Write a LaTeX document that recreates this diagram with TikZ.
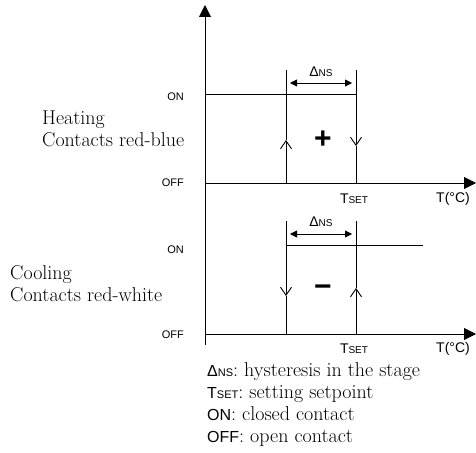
\documentclass[tikz,border=0pt]{standalone}
\usepackage{fontspec}
\setsansfont{Liberation Sans}
\usepackage{tikz}
\usetikzlibrary{arrows.meta, positioning, calc}

\newcommand{\dns}[2]{{\sffamily\fontsize{#1}{#1}\selectfont Δ\fontsize{#2}{#2}\selectfont NS}}
\newcommand{\tset}[2]{{\sffamily\fontsize{#1}{#1}\selectfont T\fontsize{#2}{#2}\selectfont SET}}

\begin{document}
\begin{tikzpicture}[
    x=1pt, y=-1pt,
    axis/.style={line width=1pt, -{Triangle[length=12pt, width=12pt]}},
    curve/.style={line width=0.8pt},
    span/.style={line width=0.8pt, {Triangle[length=7pt, width=7pt]}-{Triangle[length=7pt, width=7pt]}, shorten <=4pt, shorten >=4pt},
    barb/.style={line width=0.9pt, -{Straight Barb[length=8pt, width=11pt]}},
    lvl/.style={font=\sffamily\fontsize{11}{12}\selectfont, anchor=east, inner sep=0pt},
    tick/.style={font=\sffamily\fontsize{14}{16}\selectfont, inner sep=0pt},
    desc/.style={font=\fontsize{20}{22}\selectfont, align=left, anchor=north west, inner sep=0pt},
    sign/.style={font=\sffamily\bfseries\fontsize{30}{30}\selectfont, inner sep=0pt},
]
    \useasboundingbox (0,0) rectangle (476,452);

    % Axes
    \coordinate (ybot) at (205,345);
    \coordinate (ytop) at (205,5);
    \coordinate (o1) at (205,183);
    \coordinate (o2) at (205,334);
    \coordinate (x1) at (476,183);
    \coordinate (x2) at (476,334);
    \draw[axis] (ybot) -- (ytop);
    \draw[axis] (o1) -- (x1);
    \draw[axis] (o2) -- (x2);

    % Heating
    \coordinate (hon) at (205,94);
    \coordinate (hA) at (286,70);
    \coordinate (hB) at (356,70);
    \coordinate (hA0) at (286,183);
    \coordinate (hB0) at (356,183);
    \coordinate (hAm) at (286,140);
    \coordinate (hBm) at (356,146);
    \draw[curve] (hon) -- (hon -| hB);
    \draw[barb] (hA0) -- (hAm);
    \draw[curve] (hAm) -- (hA);
    \draw[barb] (hB) -- (hBm);
    \draw[curve] (hBm) -- (hB0);
    \draw[span] ($(hA)+(0,13)$) -- ($(hB)+(0,13)$);
    \node[tick] (hdns) at (321,72) {\dns{14}{10}};
    \node[sign] (plus) at (323,140) {+};
    \node[lvl] (hON) at (184,97) {ON};
    \node[lvl] (hOFF) at (184,183) {OFF};
    \node[desc] (heat) at (42,111) {Heating\\Contacts red-blue};
    \node[tick] (htset) at (354,199) {\tset{14}{10}};
    \node[tick] (hT) at (453,199) {T(°C)};

    % Cooling
    \coordinate (cA) at (286,221);
    \coordinate (cB) at (356,221);
    \coordinate (cA0) at (286,334);
    \coordinate (cB0) at (356,334);
    \coordinate (cAm) at (286,296);
    \coordinate (cBm) at (356,288);
    \coordinate (con) at (286,245);
    \coordinate (cend) at (423,245);
    \draw[curve] (con) -- (cend);
    \draw[barb] (cA) -- (cAm);
    \draw[curve] (cAm) -- (cA0);
    \draw[barb] (cB0) -- (cBm);
    \draw[curve] (cBm) -- (cB);
    \draw[span] ($(cA)+(0,13)$) -- ($(cB)+(0,13)$);
    \node[tick] (cdns) at (321,222) {\dns{14}{10}};
    \node[sign] (minus) at (323,291) {−};
    \node[lvl] (cON) at (184,250) {ON};
    \node[lvl] (cOFF) at (184,335) {OFF};
    \node[desc] (cool) at (10,265) {Cooling\\Contacts red-white};
    \node[tick] (ctset) at (354,349) {\tset{14}{10}};
    \node[tick] (cT) at (453,349) {T(°C)};

    % Legend
    \node[desc] (legend) at (207,362) {\dns{16}{11}: hysteresis in the stage\\
        \tset{16}{11}: setting setpoint\\
        {\sffamily\fontsize{16}{16}\selectfont ON}: closed contact\\
        {\sffamily\fontsize{16}{16}\selectfont OFF}: open contact};
\end{tikzpicture}
\end{document}
